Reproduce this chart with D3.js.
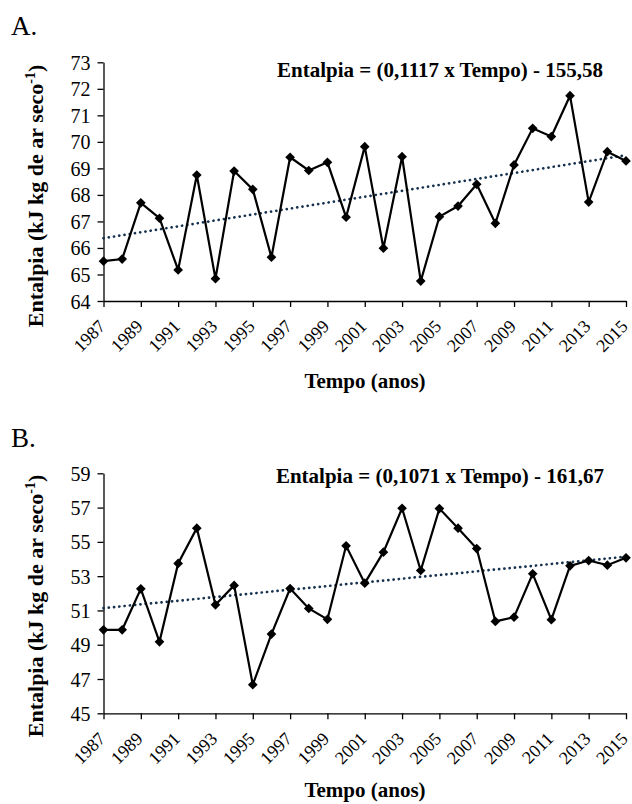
<!DOCTYPE html>
<html>
<head>
<meta charset="utf-8">
<script src="https://cdn.jsdelivr.net/npm/d3@7"></script>
<style>
  body { margin: 0; background: #fff; }
  svg text { font-family: 'Liberation Serif', 'Times New Roman', serif; }
</style>
</head>
<body>
<div id="chart"></div>
<script>
const years = d3.range(1987, 2016);
const yearTicks = d3.range(1987, 2016, 2);

// panel A
const entalpiaA = [65.50, 65.58, 67.70, 67.12, 65.17, 68.75, 64.84, 68.90, 68.21, 65.65,
  69.42, 68.92, 69.23, 67.16, 69.82, 65.99, 69.44, 64.75, 67.18, 67.58,
  68.40, 66.93, 69.13, 70.51, 70.20, 71.74, 67.73, 69.63, 69.28];
const ticksA = [64, 65, 66, 67, 68, 69, 70, 71, 72, 73];
const trendA = [0.1117, -155.58];

// panel B
const entalpiaB = [49.87, 49.87, 52.26, 49.17, 53.74, 55.80, 51.33, 52.46, 46.67, 49.62,
  52.28, 51.12, 50.48, 54.77, 52.59, 54.40, 56.96, 53.33, 56.94, 55.80,
  54.61, 50.36, 50.61, 53.14, 50.46, 53.60, 53.91, 53.64, 54.07];
const ticksB = [45, 47, 49, 51, 53, 55, 57, 59];
const trendB = [0.1071, -161.67];

const svg = d3.select('#chart').append('svg')
  .attr('width', 632)
  .attr('height', 804);

const x = d3.scaleLinear().domain([1987, 2015]).range([103.5, 626]);

function fmt(n) {
  return String(n).replace('.', ',');
}

function panel(opts) {
  const { label, data, ticks, trend, top, bottom, labelY, eqY, tempoY, yLabelMid } = opts;
  const y = d3.scaleLinear().domain(d3.extent(ticks)).range([bottom, top]);
  const g = svg.append('g');

  g.append('text')
    .attr('x', 11)
    .attr('y', labelY)
    .style('font-size', '27px')
    .text(label);

  // y axis
  const yAxis = g.append('g')
    .attr('transform', 'translate(103.5,0)')
    .call(d3.axisLeft(y).tickValues(ticks).tickSize(6).tickSizeOuter(0).tickFormat(d3.format('d')));
  yAxis.selectAll('text').style('font-size', '20px').attr('x', -13).attr('dy', '0.35em');

  // x axis, rotated year labels
  const xAxis = g.append('g')
    .attr('transform', `translate(0,${bottom})`)
    .call(d3.axisBottom(x).tickValues(yearTicks).tickSize(6).tickSizeOuter(0).tickFormat(d3.format('d')));
  xAxis.selectAll('text')
    .style('font-size', '18px')
    .attr('text-anchor', 'end')
    .attr('y', 0)
    .attr('dy', '0.35em')
    .attr('transform', 'translate(-2,22) rotate(-45)');

  g.selectAll('.domain, .tick line').attr('stroke', '#000').attr('stroke-width', 1.3);

  // trend line
  g.append('line')
    .attr('x1', x(1987))
    .attr('x2', x(2015))
    .attr('y1', y(trend[0] * 1987 + trend[1]))
    .attr('y2', y(trend[0] * 2015 + trend[1]))
    .attr('stroke', '#17324f')
    .attr('stroke-width', 2.7)
    .attr('stroke-linecap', 'round')
    .attr('stroke-dasharray', '0.1,5.2');

  // series
  g.append('path')
    .datum(data)
    .attr('fill', 'none')
    .attr('stroke', '#000')
    .attr('stroke-width', 2.2)
    .attr('stroke-linejoin', 'miter')
    .attr('d', d3.line().x((d, i) => x(years[i])).y(d => y(d)));

  g.selectAll('.pt')
    .data(data)
    .enter().append('path')
    .attr('class', 'pt')
    .attr('transform', (d, i) => `translate(${x(years[i])},${y(d)})`)
    .attr('d', d3.symbol(d3.symbolDiamond2, 60))
    .attr('fill', '#000');

  g.append('text')
    .attr('x', 440)
    .attr('y', eqY)
    .attr('text-anchor', 'middle')
    .style('font-size', '21px')
    .style('font-weight', 'bold')
    .text(`Entalpia = (${fmt(trend[0])} x Tempo) - ${fmt(-trend[1])}`);

  const yl = g.append('text')
    .attr('transform', `translate(43,${yLabelMid}) rotate(-90)`)
    .attr('text-anchor', 'middle')
    .style('font-size', '22px')
    .style('font-weight', 'bold');
  yl.append('tspan').text('Entalpia (kJ kg de ar seco');
  yl.append('tspan').attr('dy', -8).style('font-size', '14px').text('-1');
  yl.append('tspan').attr('dy', 8).text(')');

  g.append('text')
    .attr('x', 365)
    .attr('y', tempoY)
    .attr('text-anchor', 'middle')
    .style('font-size', '21px')
    .style('font-weight', 'bold')
    .text('Tempo (anos)');
}

panel({
  label: 'A.', data: entalpiaA, ticks: ticksA, trend: trendA,
  top: 62.3, bottom: 301, labelY: 35, eqY: 77, tempoY: 388, yLabelMid: 196,
});

panel({
  label: 'B.', data: entalpiaB, ticks: ticksB, trend: trendB,
  top: 473.3, bottom: 713.3, labelY: 447, eqY: 483, tempoY: 797, yLabelMid: 606,
});
</script>
</body>
</html>
